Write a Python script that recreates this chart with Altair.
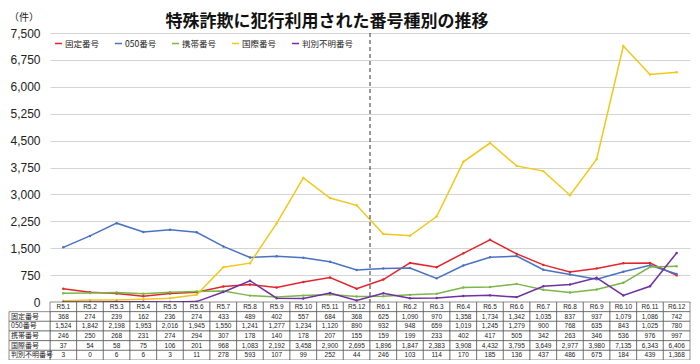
import altair as alt
import pandas as pd

months = ["R5.1", "R5.2", "R5.3", "R5.4", "R5.5", "R5.6", "R5.7", "R5.8", "R5.9", "R5.10", "R5.11", "R5.12",
          "R6.1", "R6.2", "R6.3", "R6.4", "R6.5", "R6.6", "R6.7", "R6.8", "R6.9", "R6.10", "R6.11", "R6.12"]
series = ["固定番号", "050番号", "携帯番号", "国際番号", "判別不明番号"]
colors = ["#e3262b", "#4a72c2", "#7ab648", "#f0c81c", "#7030a0"]

fixed = [368, 274, 239, 162, 236, 274, 433, 489, 402, 557, 684, 368,
         625, 1090, 970, 1358, 1734, 1342, 1035, 837, 937, 1079, 1086, 742]
num050 = [1524, 1842, 2198, 1953, 2016, 1945, 1550, 1241, 1277, 1234, 1120, 890,
          932, 948, 659, 1019, 1245, 1279, 900, 768, 635, 843, 1025, 780]
mobile = [246, 250, 268, 231, 274, 294, 307, 178, 140, 178, 207, 155,
          159, 199, 233, 402, 417, 505, 342, 263, 346, 536, 976, 997]
intl = [37, 54, 58, 75, 106, 201, 968, 1083, 2192, 3458, 2900, 2695,
        1896, 1847, 2383, 3908, 4432, 3795, 3649, 2977, 3980, 7135, 6343, 6406]
unknown = [3, 0, 6, 6, 3, 11, 278, 593, 107, 99, 252, 44,
           246, 103, 114, 170, 185, 136, 437, 486, 675, 184, 439, 1368]

y_ticks = [0, 750, 1500, 2250, 3000, 3750, 4500, 5250, 6000, 6750, 7500]
title_text = "特殊詐欺に犯行利用された番号種別の推移"
unit_text = "（件）"
divider_month = "R6.1"

W, H = 640, 269
TABLE_H = 58
FONT = "Noto Sans CJK JP"

all_vals = [fixed, num050, mobile, intl, unknown]
rows = []
for si, (name, vals) in enumerate(zip(series, all_vals)):
    for m, v in zip(months, vals):
        rows.append({"month": m, "series": name, "value": v, "row": si + 1,
                     "label": f"{v:,}", "sidx": si})
df = pd.DataFrame(rows)

cells = []
for m in months:
    cells.append({"month": m, "r0": 0, "r1": 1, "rc": 0.5, "label": m})
for _, r in df.iterrows():
    cells.append({"month": r["month"], "r0": r["row"], "r1": r["row"] + 1,
                  "rc": r["row"] + 0.5, "label": r["label"]})
cells_df = pd.DataFrame(cells)

names_df = pd.DataFrame({"name": series, "r0": [1, 2, 3, 4, 5], "r1": [2, 3, 4, 5, 6],
                         "rc": [1.5, 2.5, 3.5, 4.5, 5.5]})

xscale = alt.Scale(type="band", domain=months, paddingInner=0, paddingOuter=0)
tscale = alt.Scale(domain=[0, 6], range=[H, H + TABLE_H], nice=False, zero=False)
xaxis = alt.Axis(labels=False, ticks=False, title=None, domainColor="#9a9a9a", grid=False)

lines = alt.Chart(df).mark_line(strokeWidth=1.5, point=alt.OverlayMarkDef(size=6, filled=True)).encode(
    x=alt.X("month:N", scale=xscale, axis=xaxis, bandPosition=0.5),
    y=alt.Y("value:Q", scale=alt.Scale(domain=[0, 7500], nice=False),
            axis=alt.Axis(values=y_ticks, labelExpr="format(datum.value, ',d')", title=None,
                          ticks=False, domain=False,
                          labelFontSize=12, labelColor="#222", labelFont="Liberation Sans",
                          labelPadding=10, gridColor="#d4d4d4", gridWidth=1)),
    color=alt.Color("series:N", scale=alt.Scale(domain=series, range=colors),
                    legend=alt.Legend(title=None, orient="none", legendX=4, legendY=6,
                                      direction="horizontal", symbolType="stroke",
                                      symbolStrokeWidth=1.5, symbolSize=50, labelOffset=2,
                                      labelFontSize=8.5, labelFont=FONT, labelColor="#222",
                                      columnPadding=11)),
    order=alt.Order("sidx:Q"),
)

rule = alt.Chart(pd.DataFrame({"month": [divider_month]})).mark_rule(
    color="#333", strokeDash=[4, 3], strokeWidth=1).encode(
    x=alt.X("month:N", scale=xscale, axis=xaxis, bandPosition=0),
    y=alt.value(0), y2=alt.value(H),
)

cell_rects = alt.Chart(cells_df).mark_rect(fill="white", stroke="#444", strokeWidth=0.6).encode(
    x=alt.X("month:N", scale=xscale, axis=xaxis),
    y=alt.Y("r0:Q", scale=tscale, axis=None), y2="r1:Q",
)
cell_text = alt.Chart(cells_df).mark_text(fontSize=6.5, font="Liberation Sans", color="#222").encode(
    x=alt.X("month:N", scale=xscale, axis=xaxis, bandPosition=0.5),
    y=alt.Y("rc:Q", scale=tscale, axis=None),
    text="label:N",
)
name_rects = alt.Chart(names_df).mark_rect(fill="white", stroke="#444", strokeWidth=0.6).encode(
    x=alt.value(-41), x2=alt.value(0),
    y=alt.Y("r0:Q", scale=tscale, axis=None), y2="r1:Q",
)
name_text = alt.Chart(names_df).mark_text(fontSize=7, font=FONT, color="#222", align="left").encode(
    x=alt.value(-39),
    y=alt.Y("rc:Q", scale=tscale, axis=None),
    text="name:N",
)

title = alt.Chart(pd.DataFrame({"t": [title_text]})).mark_text(
    fontSize=17, fontWeight="bold", font=FONT, color="#111").encode(
    x=alt.value(277), y=alt.value(-11.5), text="t:N")
unit = alt.Chart(pd.DataFrame({"t": [unit_text]})).mark_text(
    fontSize=10, font=FONT, color="#222", align="left").encode(
    x=alt.value(-41), y=alt.value(-15), text="t:N")

chart = alt.layer(lines, rule, cell_rects, cell_text, name_rects, name_text, title, unit).resolve_scale(
    y="independent"
).properties(
    width=W, height=H,
    autosize=alt.AutoSizeParams(type="none"),
    padding={"left": 42, "top": 25, "right": 2, "bottom": TABLE_H},
).configure_view(stroke=None)

chart.save("out.html", embed_options={"renderer": "svg", "actions": False})
